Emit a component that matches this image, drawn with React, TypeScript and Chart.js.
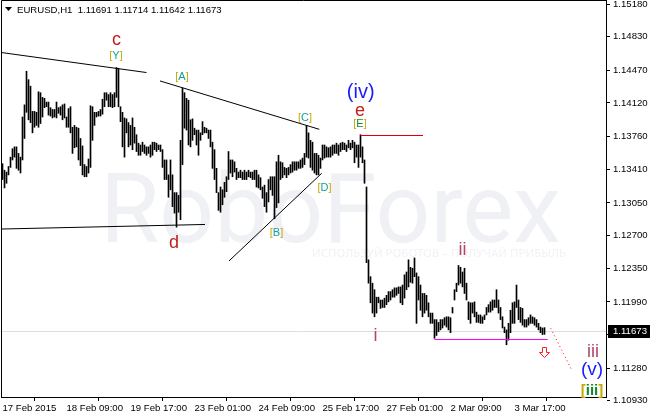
import { useEffect, useRef } from 'react';
import { Chart, registerables } from 'chart.js';

Chart.register(...registerables);

const FONT = '"Liberation Sans", Arial, sans-serif';

// ---- data (EURUSD H1 bars) ----
const symbolTitle = 'EURUSD,H1';
const lastBarOHLC = [1.11691, 1.11714, 1.11642, 1.11673];

const barHigh = [
  1.1347, 1.1340, 1.1338, 1.1344, 1.1354, 1.1363, 1.1365, 1.1365, 1.1358, 1.1354,
  1.1397, 1.1410, 1.1446, 1.1437, 1.1430, 1.1403, 1.1403, 1.1402, 1.1424, 1.1423,
  1.1418, 1.1417, 1.1413, 1.1413, 1.1407, 1.1405, 1.1405, 1.1413, 1.1407, 1.1408,
  1.1410, 1.1411, 1.1397, 1.1406, 1.1408, 1.1386, 1.1388, 1.1386, 1.1385, 1.1374,
  1.1366, 1.1346, 1.1344, 1.1352, 1.1409, 1.1408, 1.1402, 1.1402, 1.1403, 1.1405,
  1.1416, 1.1423, 1.1423, 1.1421, 1.1423, 1.1421, 1.1423, 1.1450, 1.1449, 1.1408,
  1.1402, 1.1396, 1.1395, 1.1391, 1.1388, 1.1396, 1.1386, 1.1378, 1.1369, 1.1367,
  1.1370, 1.1367, 1.1365, 1.1365, 1.1367, 1.1370, 1.1370, 1.1369, 1.1367, 1.1367,
  1.1362, 1.1351, 1.1351, 1.1335, 1.1351, 1.1335, 1.1316, 1.1316, 1.1313, 1.1372,
  1.1428, 1.1423, 1.1417, 1.1415, 1.1394, 1.1395, 1.1385, 1.1383, 1.1383, 1.1380,
  1.1392, 1.1386, 1.1385, 1.1383, 1.1383, 1.1370, 1.1362, 1.1342, 1.1316, 1.1322,
  1.1319, 1.1327, 1.1333, 1.1360, 1.1351, 1.1351, 1.1349, 1.1342, 1.1338, 1.1340,
  1.1338, 1.1340, 1.1338, 1.1340, 1.1338, 1.1338, 1.1340, 1.1340, 1.1335, 1.1332,
  1.1322, 1.1324, 1.1316, 1.1330, 1.1333, 1.1333, 1.1333, 1.1349, 1.1356, 1.1349,
  1.1348, 1.1343, 1.1342, 1.1343, 1.1346, 1.1349, 1.1349, 1.1349, 1.1349, 1.1351,
  1.1353, 1.1358, 1.1388, 1.1380, 1.1372, 1.1370, 1.1358, 1.1358, 1.1356, 1.1353,
  1.1367, 1.1367, 1.1365, 1.1364, 1.1365, 1.1367, 1.1367, 1.1369, 1.1367, 1.1369,
  1.1370, 1.1369, 1.1367, 1.1372, 1.1369, 1.1372, 1.1370, 1.1367, 1.1367, 1.1378,
  1.1365, 1.1351, 1.1322, 1.1244, 1.1226, 1.1219, 1.1212, 1.1204, 1.1204, 1.1201,
  1.1201, 1.1203, 1.1206, 1.1210, 1.1210, 1.1212, 1.1214, 1.1214, 1.1215, 1.1215,
  1.1217, 1.1228, 1.1231, 1.1244, 1.1236, 1.1235, 1.1246, 1.1230, 1.1226, 1.1217,
  1.1208, 1.1208, 1.1206, 1.1198, 1.1187, 1.1187, 1.1180, 1.1180, 1.1177, 1.1180,
  1.1180, 1.1182, 1.1183, 1.1183, 1.1182, 1.1193, 1.1212, 1.1219, 1.1238, 1.1236,
  1.1231, 1.1235, 1.1219, 1.1199, 1.1198, 1.1198, 1.1199, 1.1188, 1.1185, 1.1185,
  1.1183, 1.1185, 1.1193, 1.1196, 1.1199, 1.1201, 1.1201, 1.1212, 1.1201, 1.1193,
  1.1183, 1.1172, 1.1169, 1.1176, 1.1190, 1.1198, 1.1199, 1.1217, 1.1201, 1.1193,
  1.1192, 1.1180, 1.1180, 1.1182, 1.1185, 1.1183, 1.1182, 1.1180, 1.1176, 1.1172,
  1.1171, 1.11714,
];

const barLow = [
  1.1330, 1.1321, 1.1326, 1.1335, 1.1343, 1.1351, 1.1354, 1.1342, 1.1340, 1.1337,
  1.1351, 1.1374, 1.1402, 1.1394, 1.1391, 1.1380, 1.1386, 1.1388, 1.1386, 1.1390,
  1.1397, 1.1407, 1.1408, 1.1399, 1.1398, 1.1396, 1.1397, 1.1396, 1.1401, 1.1399,
  1.1394, 1.1396, 1.1386, 1.1386, 1.1380, 1.1358, 1.1364, 1.1365, 1.1351, 1.1345,
  1.1335, 1.1333, 1.1333, 1.1337, 1.1343, 1.1372, 1.1388, 1.1397, 1.1398, 1.1398,
  1.1400, 1.1408, 1.1415, 1.1408, 1.1408, 1.1407, 1.1408, 1.1418, 1.1408, 1.1392,
  1.1365, 1.1354, 1.1380, 1.1365, 1.1367, 1.1362, 1.1369, 1.1360, 1.1356, 1.1356,
  1.1360, 1.1358, 1.1356, 1.1358, 1.1354, 1.1356, 1.1362, 1.1360, 1.1362, 1.1360,
  1.1343, 1.1330, 1.1330, 1.1311, 1.1319, 1.1301, 1.1294, 1.1279, 1.1295, 1.1287,
  1.1346, 1.1385, 1.1383, 1.1367, 1.1365, 1.1372, 1.1378, 1.1367, 1.1356, 1.1372,
  1.1378, 1.1380, 1.1380, 1.1374, 1.1365, 1.1342, 1.1330, 1.1316, 1.1297, 1.1295,
  1.1303, 1.1311, 1.1317, 1.1330, 1.1337, 1.1333, 1.1338, 1.1330, 1.1332, 1.1332,
  1.1330, 1.1330, 1.1330, 1.1333, 1.1332, 1.1330, 1.1330, 1.1322, 1.1321, 1.1319,
  1.1310, 1.1301, 1.1295, 1.1306, 1.1319, 1.1313, 1.1288, 1.1300, 1.1305, 1.1330,
  1.1332, 1.1335, 1.1332, 1.1335, 1.1337, 1.1338, 1.1340, 1.1340, 1.1342, 1.1342,
  1.1343, 1.1346, 1.1354, 1.1353, 1.1343, 1.1340, 1.1337, 1.1335, 1.1335, 1.1342,
  1.1351, 1.1353, 1.1354, 1.1354, 1.1354, 1.1356, 1.1358, 1.1358, 1.1356, 1.1360,
  1.1362, 1.1362, 1.1360, 1.1364, 1.1362, 1.1364, 1.1348, 1.1354, 1.1343, 1.1354,
  1.1348, 1.1326, 1.1241, 1.1219, 1.1198, 1.1187, 1.1183, 1.1187, 1.1198, 1.1192,
  1.1193, 1.1193, 1.1196, 1.1199, 1.1201, 1.1204, 1.1204, 1.1206, 1.1208, 1.1198,
  1.1196, 1.1203, 1.1212, 1.1215, 1.1220, 1.1219, 1.1226, 1.1176, 1.1201, 1.1190,
  1.1183, 1.1187, 1.1190, 1.1183, 1.1176, 1.1176, 1.1160, 1.1163, 1.1167, 1.1169,
  1.1171, 1.1174, 1.1172, 1.1169, 1.1166, 1.1187, 1.1201, 1.1210, 1.1217, 1.1219,
  1.1215, 1.1208, 1.1201, 1.1180, 1.1176, 1.1187, 1.1183, 1.1177, 1.1177, 1.1176,
  1.1176, 1.1180, 1.1185, 1.1188, 1.1188, 1.1190, 1.1193, 1.1193, 1.1187, 1.1180,
  1.1171, 1.1166, 1.1153, 1.1158, 1.1166, 1.1176, 1.1176, 1.1193, 1.1180, 1.1177,
  1.1174, 1.1172, 1.1172, 1.1174, 1.1176, 1.1176, 1.1174, 1.1172, 1.1169, 1.1166,
  1.1164, 1.11642,
];

const xTickIndex = [0, 32, 64, 96, 128, 160, 192, 224, 256];
const xTickLabels = [
  '17 Feb 2015', '18 Feb 09:00', '19 Feb 17:00', '23 Feb 01:00', '24 Feb 09:00',
  '25 Feb 17:00', '27 Feb 01:00', '2 Mar 09:00', '3 Mar 17:00',
];
const yTickValues = [
  1.1518, 1.1483, 1.1447, 1.1412, 1.1376, 1.1341, 1.1305, 1.127, 1.1235, 1.1199,
  1.1164, 1.1128, 1.1093,
];
const xMin = -0.75;
const xMax = 301.75;
const yMin = 1.10971;
const yMax = 1.15223;

// ---- annotations (bar index, price) ----
const trendLines = [
  { a: [-0.75, 1.14661], b: [72, 1.14446], color: '#000000', dash: [] as number[] },
  { a: [78.75, 1.14356], b: [158.4, 1.13838], color: '#000000', dash: [] as number[] },
  { a: [-0.75, 1.1277], b: [101.25, 1.12819], color: '#000000', dash: [] as number[] },
  { a: [113.25, 1.12428], b: [159.6, 1.13367], color: '#000000', dash: [] as number[] },
  { a: [179, 1.13777], b: [210.25, 1.13777], color: '#e00000', dash: [] as number[] },
  { a: [215.9, 1.11589], b: [272.6, 1.11589], color: '#ff00ff', dash: [] as number[] },
  { a: [274.1, 1.11707], b: [284.6, 1.1126], color: '#ff0000', dash: [1, 3] },
];

const RED = '#c0201c';
const MAUVE = '#b2456c';
const BLUE = '#1a1aff';
const TEAL = '#13a0a0';
const GREEN = '#138a2a';
const GOLD = '#c8a800';

const waveLabels = [
  { t: 'c', i: 57, p: 1.14741, color: RED, size: 18, bold: false, br: false },
  { t: 'Y', i: 56.75, p: 1.14591, color: TEAL, size: 11, bold: false, br: true },
  { t: 'A', i: 89.75, p: 1.14361, color: TEAL, size: 11, bold: false, br: true },
  { t: '(iv)', i: 179.1, p: 1.14173, color: BLUE, size: 20, bold: false, br: false },
  { t: 'e', i: 178.75, p: 1.13981, color: RED, size: 18, bold: false, br: false },
  { t: 'E', i: 178.75, p: 1.13863, color: GREEN, size: 11, bold: false, br: true },
  { t: 'C', i: 151.25, p: 1.13927, color: TEAL, size: 11, bold: false, br: true },
  { t: 'D', i: 161, p: 1.13177, color: TEAL, size: 11, bold: false, br: true },
  { t: 'B', i: 137, p: 1.12695, color: TEAL, size: 11, bold: false, br: true },
  { t: 'd', i: 85.75, p: 1.12567, color: RED, size: 18, bold: false, br: false },
  { t: 'i', i: 186.5, p: 1.11571, color: MAUVE, size: 18, bold: false, br: false },
  { t: 'ii', i: 230, p: 1.12492, color: MAUVE, size: 18, bold: false, br: false },
  { t: 'iii', i: 295.25, p: 1.114, color: MAUVE, size: 18, bold: false, br: false },
  { t: '(v)', i: 294.75, p: 1.11207, color: BLUE, size: 19, bold: false, br: false },
  { t: 'iii', i: 294.75, p: 1.10993, color: GREEN, size: 15, bold: true, br: true },
];
const arrowMark = { i: 270.75, p: 1.11458, color: '#ff2020' };

const overlay = {
  id: 'overlay',
  beforeDatasetsDraw(chart: any) {
    const { ctx, chartArea: a, scales } = chart;
    const y = scales.y;
    ctx.save();
    ctx.beginPath();
    ctx.rect(a.left, a.top, a.right - a.left, a.bottom - a.top);
    ctx.clip();
    // watermark
    ctx.fillStyle = '#eff1f5';
    ctx.font = '400 96px Roboto, "Open Sans", sans-serif';
    ctx.textAlign = 'left';
    ctx.textBaseline = 'alphabetic';
    const wm = 'RoboForex';
    const w = ctx.measureText(wm).width;
    ctx.save();
    ctx.translate(a.left + 99, a.top + 242);
    ctx.scale(461 / w, 1);
    ctx.fillText(wm, 0, 0);
    ctx.restore();
    ctx.fillStyle = '#f1f2f6';
    ctx.font = '11px "Noto Sans", sans-serif';
    const tag = 'ИСПОЛЬЗУЙ РОБОТОВ – ПОЛУЧАЙ ПРИБЫЛЬ';
    const tw = ctx.measureText(tag).width;
    ctx.save();
    ctx.translate(a.left + 311, a.top + 257);
    ctx.scale(254 / tw, 1);
    ctx.fillText(tag, 0, 0);
    ctx.restore();
    // current price line
    const yp = Math.round(y.getPixelForValue(lastBarOHLC[3])) + 0.5;
    ctx.strokeStyle = '#dedede';
    ctx.lineWidth = 1;
    ctx.beginPath();
    ctx.moveTo(a.left, yp);
    ctx.lineTo(a.right, yp);
    ctx.stroke();
    ctx.restore();
  },
  afterDatasetsDraw(chart: any) {
    const { ctx, chartArea: a, scales } = chart;
    const x = scales.x;
    const y = scales.y;
    ctx.save();
    ctx.beginPath();
    ctx.rect(a.left, a.top, a.right - a.left, a.bottom - a.top);
    ctx.clip();
    ctx.lineWidth = 1;
    for (const l of trendLines) {
      ctx.strokeStyle = l.color;
      ctx.setLineDash(l.dash);
      ctx.beginPath();
      let y1 = y.getPixelForValue(l.a[1]);
      let y2 = y.getPixelForValue(l.b[1]);
      if (l.a[1] === l.b[1]) {
        y1 = Math.round(y1) + 0.5;
        y2 = y1;
      }
      ctx.moveTo(x.getPixelForValue(l.a[0]), y1);
      ctx.lineTo(x.getPixelForValue(l.b[0]), y2);
      ctx.stroke();
    }
    ctx.setLineDash([]);
    // arrow mark
    {
      const cx = Math.round(x.getPixelForValue(arrowMark.i)) + 0.5;
      const cy = Math.round(y.getPixelForValue(arrowMark.p)) + 0.5;
      ctx.strokeStyle = arrowMark.color;
      ctx.beginPath();
      ctx.moveTo(cx - 2, cy - 5);
      ctx.lineTo(cx + 2, cy - 5);
      ctx.lineTo(cx + 2, cy);
      ctx.lineTo(cx + 5, cy);
      ctx.lineTo(cx, cy + 5);
      ctx.lineTo(cx - 5, cy);
      ctx.lineTo(cx - 2, cy);
      ctx.closePath();
      ctx.stroke();
    }
    ctx.restore();
    // wave labels (may extend beyond chart area)
    ctx.save();
    ctx.textBaseline = 'alphabetic';
    for (const lb of waveLabels) {
      const px = x.getPixelForValue(lb.i);
      const py = y.getPixelForValue(lb.p);
      ctx.font = `${lb.bold ? 'bold ' : ''}${lb.size}px ${FONT}`;
      if (lb.br) {
        const wb = ctx.measureText('[').width;
        const wi = ctx.measureText(lb.t).width;
        const total = wb * 2 + wi;
        const sx = px - total / 2;
        ctx.textAlign = 'left';
        ctx.fillStyle = GOLD;
        ctx.fillText('[', sx, py);
        ctx.fillStyle = lb.color;
        ctx.fillText(lb.t, sx + wb, py);
        ctx.fillStyle = GOLD;
        ctx.fillText(']', sx + wb + wi, py);
      } else {
        ctx.textAlign = 'center';
        ctx.fillStyle = lb.color;
        ctx.fillText(lb.t, px, py);
      }
    }
    ctx.restore();
  },
  afterDraw(chart: any) {
    const { ctx, chartArea: a, scales } = chart;
    const y = scales.y;
    ctx.save();
    // left & top border
    ctx.strokeStyle = '#000';
    ctx.lineWidth = 1;
    ctx.beginPath();
    ctx.moveTo(a.left + 0.5, a.bottom);
    ctx.lineTo(a.left + 0.5, a.top + 0.5);
    ctx.lineTo(a.right, a.top + 0.5);
    ctx.stroke();
    // header
    ctx.fillStyle = '#000';
    ctx.beginPath();
    ctx.moveTo(5, 7);
    ctx.lineTo(12, 7);
    ctx.lineTo(8.5, 11);
    ctx.closePath();
    ctx.fill();
    ctx.font = `9.6px ${FONT}`;
    ctx.textAlign = 'left';
    ctx.textBaseline = 'alphabetic';
    const head = `${symbolTitle}  ${lastBarOHLC.map((v) => v.toFixed(5)).join(' ')}`;
    ctx.fillText(head, 17, 13);
    // current price box on axis
    const yp = Math.round(y.getPixelForValue(lastBarOHLC[3]));
    ctx.fillStyle = '#000';
    ctx.fillRect(a.right + 2, yp - 6, 650 - a.right - 2, 13);
    ctx.fillStyle = '#fff';
    ctx.textBaseline = 'middle';
    ctx.fillText(lastBarOHLC[3].toFixed(5), a.right + 7, yp + 0.5);
    ctx.restore();
  },
};

export default function App() {
  const ref = useRef<HTMLCanvasElement>(null);
  useEffect(() => {
    document.body.style.margin = '0';
    const canvas = ref.current;
    if (!canvas) return;
    const points = barHigh.map((h, i) => ({ x: i, y: [barLow[i], h] }));
    const chart = new Chart(canvas, {
      type: 'bar',
      data: {
        datasets: [
          {
            data: points as any,
            backgroundColor: '#000000',
            borderWidth: 0,
            barThickness: 1,
            grouped: false,
          } as any,
        ],
      },
      options: {
        animation: false,
        responsive: false,
        maintainAspectRatio: false,
        events: [],
        layout: { padding: { left: 1, top: 0, right: 0, bottom: 0 } },
        plugins: { legend: { display: false }, tooltip: { enabled: false } },
        scales: {
          x: {
            type: 'linear',
            position: 'bottom',
            min: xMin,
            max: xMax,
            bounds: 'data',
            offset: false,
            afterBuildTicks: (s: any) => {
              s.ticks = xTickIndex.map((v) => ({ value: v }));
            },
            afterFit: (s: any) => {
              s.height = 23;
              s.paddingLeft = 0;
              s.paddingRight = 0;
            },
            grid: {
              drawOnChartArea: false,
              drawTicks: true,
              tickLength: 4,
              color: '#000000',
              tickColor: '#000000',
            },
            border: { display: true, color: '#000000' },
            ticks: {
              autoSkip: false,
              maxRotation: 0,
              minRotation: 0,
              align: 'start',
              padding: 2,
              color: '#000000',
              font: { family: FONT, size: 9.6 },
              callback: (v: any) => {
                const k = xTickIndex.indexOf(Number(v));
                return k >= 0 ? xTickLabels[k] : '';
              },
            },
          } as any,
          y: {
            type: 'linear',
            position: 'right',
            min: yMin,
            max: yMax,
            bounds: 'data',
            afterBuildTicks: (s: any) => {
              s.ticks = yTickValues.map((v) => ({ value: v }));
            },
            afterFit: (s: any) => {
              s.width = 44;
              s.paddingTop = 0;
              s.paddingBottom = 0;
            },
            grid: {
              drawOnChartArea: false,
              drawTicks: true,
              tickLength: 4,
              color: '#000000',
              tickColor: '#000000',
            },
            border: { display: true, color: '#000000' },
            ticks: {
              autoSkip: false,
              padding: 3,
              color: '#000000',
              font: { family: FONT, size: 9.6 },
              callback: (v: any) => Number(v).toFixed(5),
            },
          } as any,
        },
      },
      plugins: [overlay],
    });
    return () => chart.destroy();
  }, []);
  return (
    <canvas
      ref={ref}
      width={650}
      height={420}
      style={{ display: 'block', width: '650px', height: '420px' }}
    />
  );
}
